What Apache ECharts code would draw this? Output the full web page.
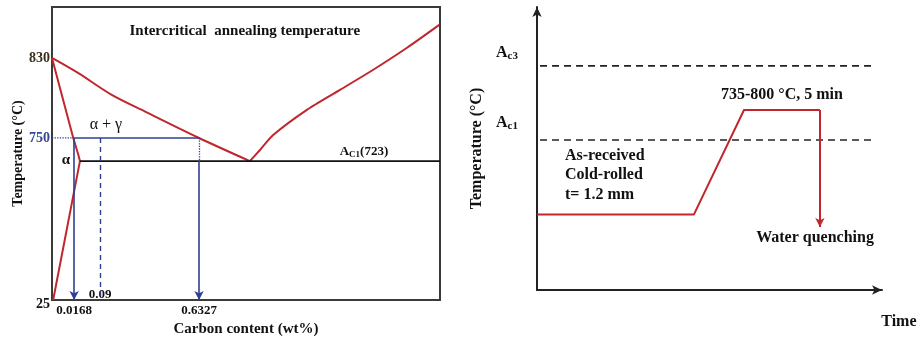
<!DOCTYPE html>
<html><head><meta charset="utf-8">
<script src="https://cdn.jsdelivr.net/npm/echarts@6/dist/echarts.min.js"></script>
<style>html,body{margin:0;padding:0;background:#fff}#c{width:921px;height:337px}</style>
</head><body><div id="c"></div>
<script>
// ---------- Left panel: schematic Fe–C diagram (schematic units 0–100 on both axes) ----------
const a3Line = [[0,82.6],[6.8,77.4],[15.4,70.0],[24.0,64.3],[37.9,55.3],[51.0,47.4]];
const acmLine = [[51.0,47.4],[53.6,51.2],[57.0,56.3],[65.6,64.8],[74.2,71.7],[82.7,78.5],[91.4,86.0],[99.8,93.9]];
const ferriteLine = [[0,82.6],[5.5,55.2],[6.8,49.5],[7.2,47.4],[0.3,0]];
const a1Level = 47.4;
const a1Start = 7.2;
const temp750 = 55.3;
const carbonPos = [5.7, 12.4, 37.9];
const carbonLabels = ['0.0168', '0.09', '0.6327'];
const tempPos = [82.6, 55.3, 0];
const tempLabels = ['830', '750', '25'];

// ---------- Right panel: heat-treatment schedule (schematic units) ----------
const ac3Level = 79.2;
const ac1Level = 53.0;
const profile = [[0,26.7],[45.5,26.7],[60.0,63.6],[82.0,63.6]];
const quenchEnd = 22.3;

const RED = '#c0272d', BLUE = '#2f3f8f', INK = '#111';
const SERIF = '"Liberation Serif","Times New Roman",serif';

function nearestIdx(arr, v){let b=0;for(let i=1;i<arr.length;i++){if(Math.abs(arr[i]-v)<Math.abs(arr[b]-v))b=i;}return b;}

function note(x, y, text, style){
  return {value:[x,y], label:Object.assign({show:true, position:'inside', formatter:text,
    fontFamily:SERIF, fontWeight:'bold', fontSize:15, color:INK, textBorderWidth:0}, style||{})};
}

const chart = echarts.init(document.getElementById('c'));
chart.setOption({
  animation:false,
  backgroundColor:'#fff',
  grid:[
    {left:52, top:7, width:388, height:293, show:true, borderColor:'#3a3a3a', borderWidth:2, backgroundColor:'transparent', outerBoundsMode:'none'},
    {left:537, top:7, width:345, height:283, show:false, outerBoundsMode:'none'}
  ],
  xAxis:[
    {gridIndex:0, type:'value', min:0, max:100, axisLine:{show:false}, axisTick:{show:false}, splitLine:{show:false},
     axisLabel:{customValues:[carbonPos[0], carbonPos[2]], margin:4,
       formatter:v=>carbonLabels[nearestIdx(carbonPos,v)],
       fontFamily:SERIF, fontWeight:'bold', fontSize:13, color:INK},
     name:'Carbon content (wt%)', nameLocation:'middle', nameGap:19,
     nameTextStyle:{fontFamily:SERIF, fontWeight:'bold', fontSize:15, color:INK}},
    {gridIndex:1, type:'value', min:0, max:100, splitLine:{show:false}, axisTick:{show:false}, axisLabel:{show:false},
     axisLine:{show:true, symbol:['none','arrow'], symbolSize:[7,10], lineStyle:{color:'#222', width:2}}}
  ],
  yAxis:[
    {gridIndex:0, type:'value', min:0, max:100, axisLine:{show:false}, axisTick:{show:false}, splitLine:{show:false},
     axisLabel:{customValues:tempPos, margin:2,
       formatter:v=>{const i=nearestIdx(tempPos,v);return '{t'+i+'|'+tempLabels[i]+'}';},
       rich:{
         t0:{fontFamily:SERIF, fontWeight:'bold', fontSize:14, color:'#3b2f1a'},
         t1:{fontFamily:SERIF, fontWeight:'bold', fontSize:14, color:'#34489a'},
         t2:{fontFamily:SERIF, fontWeight:'bold', fontSize:14, color:INK, padding:[9,0,0,0]}
       }},
     name:'Temperature (°C)', nameLocation:'middle', nameGap:27, nameRotate:90,
     nameTextStyle:{fontFamily:SERIF, fontWeight:'bold', fontSize:14, color:INK}},
    {gridIndex:1, type:'value', min:0, max:100, splitLine:{show:false}, axisTick:{show:false}, axisLabel:{show:false},
     axisLine:{show:true, symbol:['none','arrow'], symbolSize:[7,10], lineStyle:{color:'#222', width:2}},
     name:'Temperature (°C)', nameLocation:'middle', nameGap:52, nameRotate:90,
     nameTextStyle:{fontFamily:SERIF, fontWeight:'bold', fontSize:16, color:INK}}
  ],
  series:[
    // ----- left panel -----
    {type:'line', xAxisIndex:0, yAxisIndex:0, data:a3Line, smooth:0.3, symbol:'none', lineStyle:{color:RED, width:2}},
    {type:'line', xAxisIndex:0, yAxisIndex:0, data:acmLine, smooth:0.25, symbol:'none', lineStyle:{color:RED, width:2}},
    {type:'line', xAxisIndex:0, yAxisIndex:0, data:ferriteLine, symbol:'none', lineStyle:{color:RED, width:2}},
    {type:'line', xAxisIndex:0, yAxisIndex:0, data:[[a1Start,a1Level],[100,a1Level]], symbol:'none', lineStyle:{color:'#111', width:1.6}},
    {type:'line', xAxisIndex:0, yAxisIndex:0, data:[[0,temp750],[carbonPos[0],temp750]], symbol:'none', lineStyle:{color:BLUE, width:1.3, type:'dotted'}},
    {type:'line', xAxisIndex:0, yAxisIndex:0, data:[[carbonPos[0],temp750],[carbonPos[2],temp750]], symbol:'none', lineStyle:{color:BLUE, width:1.5}},
    {type:'line', xAxisIndex:0, yAxisIndex:0, data:[], markLine:{silent:true, symbol:['none','arrow'], symbolSize:[7,9], label:{show:false},
      lineStyle:{color:BLUE, width:1.6, type:'solid'},
      data:[
        [{coord:[carbonPos[0],temp750]},{coord:[carbonPos[0],0]}],
        [{coord:[carbonPos[2],a1Level]},{coord:[carbonPos[2],0]}]
      ]}},
    {type:'line', xAxisIndex:0, yAxisIndex:0, data:[], markLine:{silent:true, symbol:['none','none'], label:{show:false},
      lineStyle:{color:BLUE, width:1.4, type:[5,4]},
      data:[[{coord:[carbonPos[1],temp750]},{coord:[carbonPos[1],0]}]]}},
    {type:'line', xAxisIndex:0, yAxisIndex:0, data:[], markLine:{silent:true, symbol:['none','none'], label:{show:false},
      lineStyle:{color:BLUE, width:1.3, type:'dotted'},
      data:[[{coord:[carbonPos[2],temp750]},{coord:[carbonPos[2],a1Level]}]]}},
    {type:'scatter', xAxisIndex:0, yAxisIndex:0, symbolSize:0, clip:false, silent:true, itemStyle:{opacity:1}, data:[
      note(49.7, 91.8, 'Intercritical  annealing temperature', {fontSize:15}),
      note(13.9, 59.7, 'α + γ', {fontWeight:'normal', fontSize:16}),
      note(3.6, 47.6, 'α', {fontSize:15}),
      note(80.4, 50.5, '{a|A}{s|C1}{a|(723)}', {rich:{a:{fontFamily:SERIF, fontWeight:'bold', fontSize:13, color:INK},
        s:{fontFamily:SERIF, fontWeight:'bold', fontSize:9, color:INK, verticalAlign:'bottom', padding:[6,0,0,0]}}}),
      note(carbonPos[1], 1.9, carbonLabels[1], {fontSize:13})
    ]},
    // ----- right panel -----
    {type:'line', xAxisIndex:1, yAxisIndex:1, clip:false, data:[[-2.6,ac3Level],[98,ac3Level]], symbol:'none', lineStyle:{color:'#222', width:1.6, type:[7,5]}},
    {type:'line', xAxisIndex:1, yAxisIndex:1, clip:false, data:[[-2.6,ac1Level],[98,ac1Level]], symbol:'none', lineStyle:{color:'#222', width:1.6, type:[7,5]}},
    {type:'line', xAxisIndex:1, yAxisIndex:1, data:profile, symbol:'none', lineStyle:{color:RED, width:2},
     markLine:{silent:true, symbol:['none','arrow'], symbolSize:[7,9], label:{show:false}, lineStyle:{color:RED, width:2, type:'solid'},
       data:[[{coord:profile[profile.length-1]},{coord:[profile[profile.length-1][0], quenchEnd]}]]}},
    {type:'scatter', xAxisIndex:1, yAxisIndex:1, symbolSize:0, clip:false, silent:true, itemStyle:{opacity:1}, data:[
      note(-8.7, 83.7, '{a|A}{s|c3}', {rich:{a:{fontFamily:SERIF, fontWeight:'bold', fontSize:16, color:INK},
        s:{fontFamily:SERIF, fontWeight:'bold', fontSize:11, color:INK, padding:[7,0,0,0]}}}),
      note(-8.7, 59.0, '{a|A}{s|c1}', {rich:{a:{fontFamily:SERIF, fontWeight:'bold', fontSize:16, color:INK},
        s:{fontFamily:SERIF, fontWeight:'bold', fontSize:11, color:INK, padding:[7,0,0,0]}}}),
      note(71.0, 68.9, '735-800 °C, 5 min', {fontSize:16}),
      note(8.1, 40.6, 'As-received\nCold-rolled\nt= 1.2 mm', {fontSize:16, lineHeight:19.5, position:'right', distance:0, align:'left'}),
      note(80.6, 18.4, 'Water quenching', {fontSize:16}),
      note(104.9, -11.3, 'Time', {fontSize:16})
    ]}
  ]
});
</script></body></html>
